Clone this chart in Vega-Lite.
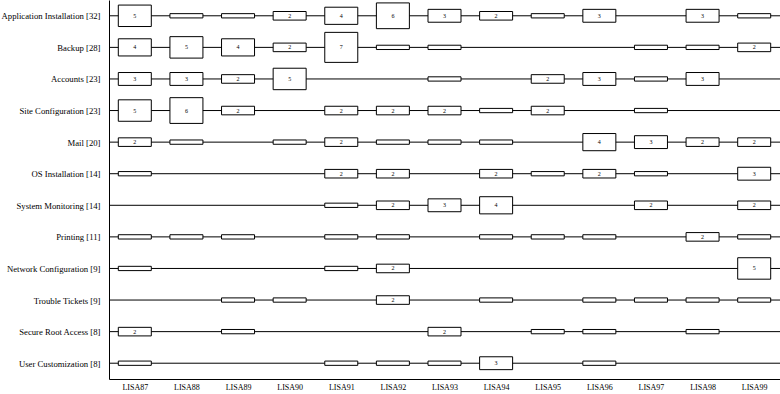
{
  "$schema": "https://vega.github.io/schema/vega-lite/v6.json",
  "width": 671,
  "height": 379,
  "autosize": {"type": "none"},
  "padding": {"left": 109, "top": 0, "right": 0, "bottom": 15},
  "background": "white",
  "config": {
    "view": {"stroke": null},
    "axis": {
      "ticks": false, "grid": false, "domainColor": "black", "domainWidth": 1,
      "labelFont": "Liberation Serif", "labelFontSize": 8, "labelColor": "black", "title": null
    }
  },
  "datasets": {
    "rows": [
      {"task": "Application Installation [32]"},
      {"task": "Backup [28]"},
      {"task": "Accounts [23]"},
      {"task": "Site Configuration [23]"},
      {"task": "Mail [20]"},
      {"task": "OS Installation [14]"},
      {"task": "System Monitoring [14]"},
      {"task": "Printing [11]"},
      {"task": "Network Configuration [9]"},
      {"task": "Trouble Tickets [9]"},
      {"task": "Secure Root Access [8]"},
      {"task": "User Customization [8]"}
    ],
    "cells": [
      {"task": "Application Installation [32]", "release": "LISA87", "count": 5},
      {"task": "Application Installation [32]", "release": "LISA88", "count": 1},
      {"task": "Application Installation [32]", "release": "LISA89", "count": 1},
      {"task": "Application Installation [32]", "release": "LISA90", "count": 2},
      {"task": "Application Installation [32]", "release": "LISA91", "count": 4},
      {"task": "Application Installation [32]", "release": "LISA92", "count": 6},
      {"task": "Application Installation [32]", "release": "LISA93", "count": 3},
      {"task": "Application Installation [32]", "release": "LISA94", "count": 2},
      {"task": "Application Installation [32]", "release": "LISA95", "count": 1},
      {"task": "Application Installation [32]", "release": "LISA96", "count": 3},
      {"task": "Application Installation [32]", "release": "LISA98", "count": 3},
      {"task": "Application Installation [32]", "release": "LISA99", "count": 1},
      {"task": "Backup [28]", "release": "LISA87", "count": 4},
      {"task": "Backup [28]", "release": "LISA88", "count": 5},
      {"task": "Backup [28]", "release": "LISA89", "count": 4},
      {"task": "Backup [28]", "release": "LISA90", "count": 2},
      {"task": "Backup [28]", "release": "LISA91", "count": 7},
      {"task": "Backup [28]", "release": "LISA92", "count": 1},
      {"task": "Backup [28]", "release": "LISA93", "count": 1},
      {"task": "Backup [28]", "release": "LISA97", "count": 1},
      {"task": "Backup [28]", "release": "LISA98", "count": 1},
      {"task": "Backup [28]", "release": "LISA99", "count": 2},
      {"task": "Accounts [23]", "release": "LISA87", "count": 3},
      {"task": "Accounts [23]", "release": "LISA88", "count": 3},
      {"task": "Accounts [23]", "release": "LISA89", "count": 2},
      {"task": "Accounts [23]", "release": "LISA90", "count": 5},
      {"task": "Accounts [23]", "release": "LISA93", "count": 1},
      {"task": "Accounts [23]", "release": "LISA95", "count": 2},
      {"task": "Accounts [23]", "release": "LISA96", "count": 3},
      {"task": "Accounts [23]", "release": "LISA97", "count": 1},
      {"task": "Accounts [23]", "release": "LISA98", "count": 3},
      {"task": "Site Configuration [23]", "release": "LISA87", "count": 5},
      {"task": "Site Configuration [23]", "release": "LISA88", "count": 6},
      {"task": "Site Configuration [23]", "release": "LISA89", "count": 2},
      {"task": "Site Configuration [23]", "release": "LISA91", "count": 2},
      {"task": "Site Configuration [23]", "release": "LISA92", "count": 2},
      {"task": "Site Configuration [23]", "release": "LISA93", "count": 2},
      {"task": "Site Configuration [23]", "release": "LISA94", "count": 1},
      {"task": "Site Configuration [23]", "release": "LISA95", "count": 2},
      {"task": "Site Configuration [23]", "release": "LISA97", "count": 1},
      {"task": "Mail [20]", "release": "LISA87", "count": 2},
      {"task": "Mail [20]", "release": "LISA88", "count": 1},
      {"task": "Mail [20]", "release": "LISA90", "count": 1},
      {"task": "Mail [20]", "release": "LISA91", "count": 2},
      {"task": "Mail [20]", "release": "LISA92", "count": 1},
      {"task": "Mail [20]", "release": "LISA93", "count": 1},
      {"task": "Mail [20]", "release": "LISA94", "count": 1},
      {"task": "Mail [20]", "release": "LISA96", "count": 4},
      {"task": "Mail [20]", "release": "LISA97", "count": 3},
      {"task": "Mail [20]", "release": "LISA98", "count": 2},
      {"task": "Mail [20]", "release": "LISA99", "count": 2},
      {"task": "OS Installation [14]", "release": "LISA87", "count": 1},
      {"task": "OS Installation [14]", "release": "LISA91", "count": 2},
      {"task": "OS Installation [14]", "release": "LISA92", "count": 2},
      {"task": "OS Installation [14]", "release": "LISA94", "count": 2},
      {"task": "OS Installation [14]", "release": "LISA95", "count": 1},
      {"task": "OS Installation [14]", "release": "LISA96", "count": 2},
      {"task": "OS Installation [14]", "release": "LISA97", "count": 1},
      {"task": "OS Installation [14]", "release": "LISA99", "count": 3},
      {"task": "System Monitoring [14]", "release": "LISA91", "count": 1},
      {"task": "System Monitoring [14]", "release": "LISA92", "count": 2},
      {"task": "System Monitoring [14]", "release": "LISA93", "count": 3},
      {"task": "System Monitoring [14]", "release": "LISA94", "count": 4},
      {"task": "System Monitoring [14]", "release": "LISA97", "count": 2},
      {"task": "System Monitoring [14]", "release": "LISA99", "count": 2},
      {"task": "Printing [11]", "release": "LISA87", "count": 1},
      {"task": "Printing [11]", "release": "LISA88", "count": 1},
      {"task": "Printing [11]", "release": "LISA89", "count": 1},
      {"task": "Printing [11]", "release": "LISA91", "count": 1},
      {"task": "Printing [11]", "release": "LISA92", "count": 1},
      {"task": "Printing [11]", "release": "LISA94", "count": 1},
      {"task": "Printing [11]", "release": "LISA95", "count": 1},
      {"task": "Printing [11]", "release": "LISA96", "count": 1},
      {"task": "Printing [11]", "release": "LISA98", "count": 2},
      {"task": "Printing [11]", "release": "LISA99", "count": 1},
      {"task": "Network Configuration [9]", "release": "LISA87", "count": 1},
      {"task": "Network Configuration [9]", "release": "LISA91", "count": 1},
      {"task": "Network Configuration [9]", "release": "LISA92", "count": 2},
      {"task": "Network Configuration [9]", "release": "LISA99", "count": 5},
      {"task": "Trouble Tickets [9]", "release": "LISA89", "count": 1},
      {"task": "Trouble Tickets [9]", "release": "LISA90", "count": 1},
      {"task": "Trouble Tickets [9]", "release": "LISA92", "count": 2},
      {"task": "Trouble Tickets [9]", "release": "LISA94", "count": 1},
      {"task": "Trouble Tickets [9]", "release": "LISA96", "count": 1},
      {"task": "Trouble Tickets [9]", "release": "LISA97", "count": 1},
      {"task": "Trouble Tickets [9]", "release": "LISA98", "count": 1},
      {"task": "Trouble Tickets [9]", "release": "LISA99", "count": 1},
      {"task": "Secure Root Access [8]", "release": "LISA87", "count": 2},
      {"task": "Secure Root Access [8]", "release": "LISA89", "count": 1},
      {"task": "Secure Root Access [8]", "release": "LISA93", "count": 2},
      {"task": "Secure Root Access [8]", "release": "LISA95", "count": 1},
      {"task": "Secure Root Access [8]", "release": "LISA96", "count": 1},
      {"task": "Secure Root Access [8]", "release": "LISA98", "count": 1},
      {"task": "User Customization [8]", "release": "LISA87", "count": 1},
      {"task": "User Customization [8]", "release": "LISA91", "count": 1},
      {"task": "User Customization [8]", "release": "LISA92", "count": 1},
      {"task": "User Customization [8]", "release": "LISA93", "count": 1},
      {"task": "User Customization [8]", "release": "LISA94", "count": 3},
      {"task": "User Customization [8]", "release": "LISA96", "count": 1}
    ]
  },
  "resolve": {"scale": {"x": "shared", "y": "shared"}},
  "layer": [
    {
      "data": {"name": "rows"},
      "mark": {"type": "rule", "color": "black", "strokeWidth": 1},
      "encoding": {
        "y": {
          "field": "task", "type": "nominal", "sort": null,
          "scale": {"type": "point", "padding": 0.5},
          "axis": {"labelPadding": 9, "labelLimit": 200, "labelFontSize": 8.7}
        }
      }
    },
    {
      "data": {"name": "cells"},
      "mark": {"type": "point", "filled": true, "fill": "white", "stroke": "black", "strokeWidth": 1, "opacity": 1, "size": 1089},
      "encoding": {
        "x": {
          "field": "release", "type": "ordinal",
          "scale": {"type": "point", "padding": 0.5,
            "domain": ["LISA87","LISA88","LISA89","LISA90","LISA91","LISA92","LISA93","LISA94","LISA95","LISA96","LISA97","LISA98","LISA99"]},
          "axis": {"labelAngle": 0, "labelPadding": 4}
        },
        "y": {"field": "task", "type": "nominal", "sort": null},
        "shape": {
          "field": "count", "type": "ordinal", "legend": null,
          "scale": {
            "domain": [1, 2, 3, 4, 5, 6, 7],
            "range": [
              "M-1,-0.13L1,-0.13L1,0.13L-1,0.13Z",
              "M-1,-0.26L1,-0.26L1,0.26L-1,0.26Z",
              "M-1,-0.39L1,-0.39L1,0.39L-1,0.39Z",
              "M-1,-0.52L1,-0.52L1,0.52L-1,0.52Z",
              "M-1,-0.65L1,-0.65L1,0.65L-1,0.65Z",
              "M-1,-0.78L1,-0.78L1,0.78L-1,0.78Z",
              "M-1,-0.91L1,-0.91L1,0.91L-1,0.91Z"
            ]
          }
        }
      }
    },
    {
      "data": {"name": "cells"},
      "transform": [{"filter": "datum.count >= 2"}],
      "mark": {"type": "text", "font": "Liberation Serif", "fontSize": 6, "color": "black", "baseline": "middle", "align": "center"},
      "encoding": {
        "x": {"field": "release", "type": "ordinal"},
        "y": {"field": "task", "type": "nominal", "sort": null},
        "text": {"field": "count", "type": "quantitative"}
      }
    }
  ]
}
